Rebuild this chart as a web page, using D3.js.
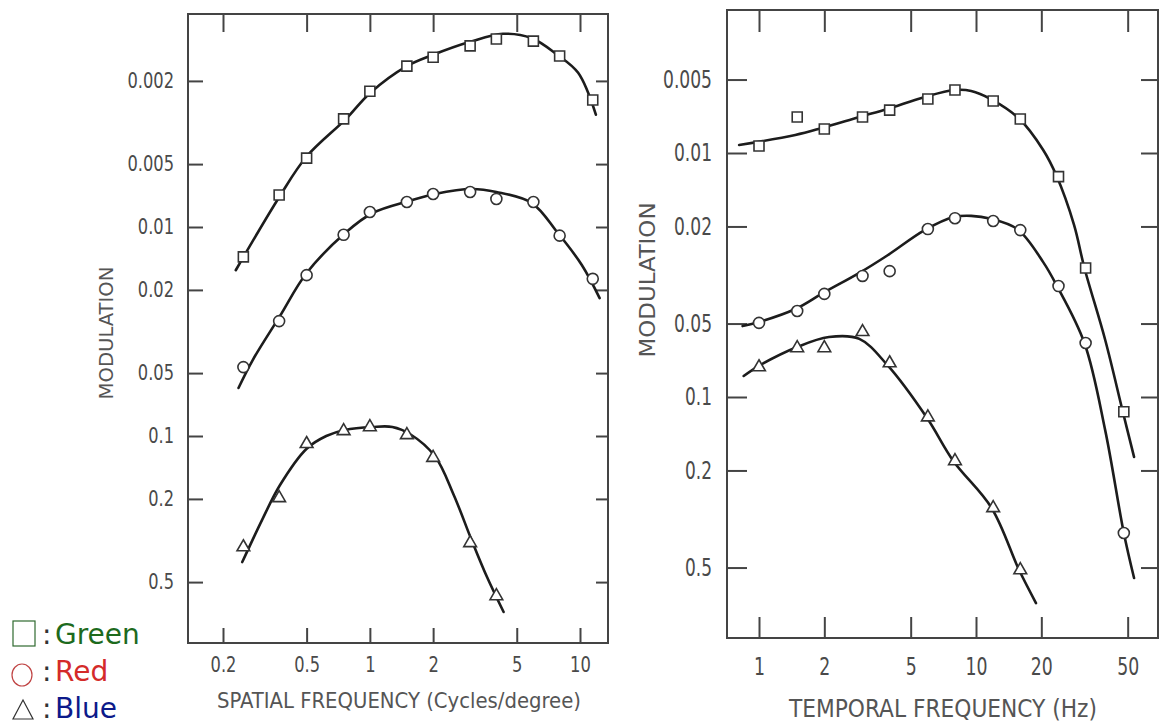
<!DOCTYPE html>
<html>
<head>
<meta charset="utf-8">
<script src="https://cdn.jsdelivr.net/npm/d3@7"></script>
<style>
  body { margin: 0; background: #fff; }
  svg { display: block; }
  .tick text { fill: #4a4a4a; font-family: "DejaVu Sans Condensed", "Liberation Sans Narrow", sans-serif; }
  .title { fill: #555; font-family: "DejaVu Sans Condensed", "Liberation Sans Narrow", sans-serif; }
</style>
</head>
<body>
<script>
// ---- data (frequency, modulation) ----
const spatialFreq = [0.25, 0.37, 0.5, 0.75, 1, 1.5, 2, 3, 4, 6, 8, 11.5];
const spatialGreen = [0.0139, 0.00703, 0.00468, 0.00304, 0.00224, 0.0017, 0.00154, 0.00136, 0.00126, 0.00129, 0.00152, 0.00247];
const spatialRed = [0.0468, 0.0282, 0.017, 0.0109, 0.00848, 0.00759, 0.00695, 0.0068, 0.00734, 0.00759, 0.011, 0.0177];
const spatialFreqBlue = [0.25, 0.37, 0.5, 0.75, 1, 1.5, 2, 3, 4];
const spatialBlue = [0.34, 0.198, 0.109, 0.0946, 0.0906, 0.0989, 0.127, 0.325, 0.583];

const temporalFreq = [1, 1.5, 2, 3, 4, 6, 8, 12, 16, 24, 32, 48];
const temporalGreen = [0.00936, 0.00712, 0.00797, 0.00712, 0.00667, 0.00601, 0.00552, 0.00612, 0.00726, 0.0125, 0.0296, 0.115];
const temporalRed = [0.0497, 0.0444, 0.0378, 0.0319, 0.0305, 0.0205, 0.0185, 0.019, 0.0207, 0.0351, 0.0601, 0.361];
const temporalFreqBlue = [1, 1.5, 2, 3, 4, 6, 8, 12, 16];
const temporalBlue = [0.0754, 0.063, 0.063, 0.0541, 0.0726, 0.121, 0.183, 0.285, 0.512];

// fitted curves, [frequency, modulation]
const spatialGreenFit = [[0.23, 0.0161], [0.37, 0.0072], [0.5, 0.0046], [0.77, 0.00304], [1, 0.00229], [1.5, 0.0017], [2, 0.0015], [3, 0.0013], [4.3, 0.00119], [5.9, 0.00125], [7.8, 0.0015], [9.8, 0.00183], [11.9, 0.0029]];
const spatialRedFit = [[0.237, 0.0589], [0.277, 0.0433], [0.373, 0.0267], [0.5, 0.0166], [0.77, 0.0106], [1.03, 0.00857], [1.53, 0.00751], [2.04, 0.00695], [3.05, 0.00658], [4, 0.0068], [5.9, 0.00768], [7.8, 0.0106], [10.2, 0.0152], [12.4, 0.0219]];
const spatialBlueFit = [[0.247, 0.401], [0.307, 0.252], [0.373, 0.172], [0.5, 0.115], [0.62, 0.1], [0.76, 0.0935], [1.03, 0.0905], [1.28, 0.0905], [1.55, 0.0978], [2.04, 0.125], [2.51, 0.192], [3.05, 0.315], [3.61, 0.473], [4.33, 0.695]];
const temporalGreenFit = [[0.81, 0.00927], [1.47, 0.00844], [1.95, 0.0079], [2.9, 0.00712], [3.9, 0.0066], [5.8, 0.00589], [8, 0.00552], [9.5, 0.00557], [11.7, 0.00601], [15.7, 0.00719], [20.4, 0.00972], [23.5, 0.0124], [28.3, 0.0197], [31.6, 0.0296], [39.4, 0.0584], [47.5, 0.115], [53.5, 0.176]];
const temporalRedFit = [[0.84, 0.0512], [1, 0.0493], [1.47, 0.0436], [1.97, 0.0375], [2.9, 0.031], [3.9, 0.0263], [5.8, 0.0207], [7.9, 0.0183], [9.5, 0.0181], [11.7, 0.0186], [15.5, 0.0205], [20.4, 0.028], [23.5, 0.0348], [31.6, 0.0601], [39.4, 0.137], [48, 0.361], [53.5, 0.552]];
const temporalBlueFit = [[0.85, 0.082], [1, 0.0745], [1.5, 0.0624], [2.1, 0.0568], [2.9, 0.0578], [3.9, 0.0739], [5.95, 0.122], [7.86, 0.183], [11.8, 0.285], [15.8, 0.512], [18.9, 0.699]];

const spatialXTicks = [0.2, 0.5, 1, 2, 5, 10];
const spatialYTicks = [0.002, 0.005, 0.01, 0.02, 0.05, 0.1, 0.2, 0.5];
const temporalXTicks = [1, 2, 5, 10, 20, 50];
const temporalYTicks = [0.005, 0.01, 0.02, 0.05, 0.1, 0.2, 0.5];

const legendNames = ["Green", "Red", "Blue"];
const legendColors = ["#1d6a1d", "#d42a2a", "#0c1a8a"];

// ---- drawing ----
const svg = d3.select("body").append("svg").attr("width", 1160).attr("height", 726);

const shapes = {
    square: d3.symbol(d3.symbolSquare, 100),
    circle: d3.symbol(d3.symbolCircle, 95),
    triangle: d3.symbol(d3.symbolTriangle, 70)
};

// the printed labels are narrow: squeeze each one to about 10.5px per digit
function labelWidth(s, digit) {
    let dots = (s.match(/\./g) || []).length;
    return (s.length - dots) * digit + dots * 5;
}

function drawPanel(p) {
    let g = svg.append("g");
    let x = d3.scaleLog().domain(p.xDomain).range(p.xRange);
    let y = d3.scaleLog().domain(p.yDomain).range(p.yRange);
    let fmt = d => String(d);

    // frame
    g.append("rect")
        .attr("x", p.frame.left).attr("y", p.frame.top)
        .attr("width", p.frame.right - p.frame.left)
        .attr("height", p.frame.bottom - p.frame.top)
        .attr("fill", "none").attr("stroke", "#444").attr("stroke-width", 2);

    let axes = [
        [d3.axisBottom(x).tickSizeInner(-p.tick.bottom).tickPadding(p.xPad).tickFormat(fmt), "translate(0," + p.frame.bottom + ")"],
        [d3.axisTop(x).tickSizeInner(-p.tick.top).tickFormat(""), "translate(0," + p.frame.top + ")"],
        [d3.axisLeft(y).tickSizeInner(-p.tick.left).tickPadding(p.yPad).tickFormat(fmt), "translate(" + p.frame.left + ",0)"],
        [d3.axisRight(y).tickSizeInner(-p.tick.right).tickFormat(""), "translate(" + p.frame.right + ",0)"]
    ];
    axes.forEach(function(a, i) {
        let ax = a[0].tickSizeOuter(0).tickValues(i < 2 ? p.xTicks : p.yTicks);
        let sel = g.append("g").attr("transform", a[1]).call(ax);
        sel.select(".domain").remove();
        sel.selectAll("line").attr("stroke", "#444").attr("stroke-width", 2);
        sel.selectAll("text")
            .style("font-size", (i < 2 ? p.xFont : p.yFont) + "px")
            .filter(function() { return this.textContent.length > 0; })
            .attr("textLength", function() { return labelWidth(this.textContent, p.digit); })
            .attr("lengthAdjust", "spacingAndGlyphs");
    });

    // fitted curves
    let line = d3.line().x(d => x(d[0])).y(d => y(d[1])).curve(d3.curveCatmullRom.alpha(0.5));
    p.curves.forEach(function(c) {
        g.append("path").attr("d", line(c)).attr("fill", "none")
            .attr("stroke", "#1c1c1c").attr("stroke-width", 2.6).attr("stroke-linecap", "round");
    });

    // markers
    p.series.forEach(function(s) {
        g.selectAll(null).data(s.values).enter().append("path")
            .attr("d", shapes[s.shape])
            .attr("transform", (d, i) => "translate(" + x(s.freq[i]) + "," + y(d) + ")")
            .attr("fill", "#fff").attr("stroke", "#333").attr("stroke-width", 1.6);
    });

    // titles
    g.append("text").attr("class", "title")
        .attr("x", p.xTitle.x).attr("y", p.xTitle.y)
        .attr("textLength", p.xTitle.len).attr("lengthAdjust", "spacingAndGlyphs")
        .style("font-size", p.xTitle.size + "px")
        .text(p.xTitle.text);
    g.append("text").attr("class", "title")
        .attr("transform", "translate(" + p.yTitle.x + "," + p.yTitle.y + ") rotate(-90)")
        .attr("text-anchor", "middle")
        .attr("textLength", p.yTitle.len).attr("lengthAdjust", "spacingAndGlyphs")
        .style("font-size", p.yTitle.size + "px")
        .text("MODULATION");
}

drawPanel({
    frame: {left: 188, top: 14, right: 608, bottom: 643},
    xDomain: [0.2, 10], xRange: [223, 580],
    yDomain: [0.01, 0.1], yRange: [227, 436],
    xTicks: spatialXTicks, yTicks: spatialYTicks,
    tick: {bottom: 15, top: 18, left: 15, right: 12},
    xPad: 13, yPad: 14, xFont: 22, yFont: 21, digit: 10.4,
    curves: [spatialGreenFit, spatialRedFit, spatialBlueFit],
    series: [
        {freq: spatialFreq, values: spatialGreen, shape: "square"},
        {freq: spatialFreq, values: spatialRed, shape: "circle"},
        {freq: spatialFreqBlue, values: spatialBlue, shape: "triangle"}
    ],
    xTitle: {text: "SPATIAL FREQUENCY (Cycles/degree)", x: 217, y: 708, len: 364, size: 21},
    yTitle: {x: 113, y: 333, len: 133, size: 20}
});

drawPanel({
    frame: {left: 727, top: 10, right: 1158, bottom: 638},
    xDomain: [1, 10], xRange: [759, 976],
    yDomain: [0.01, 0.1], yRange: [153, 397],
    xTicks: temporalXTicks, yTicks: temporalYTicks,
    tick: {bottom: 21, top: 22, left: 20, right: 17},
    xPad: 19, yPad: 15, xFont: 25, yFont: 24, digit: 11,
    curves: [temporalGreenFit, temporalRedFit, temporalBlueFit],
    series: [
        {freq: temporalFreq, values: temporalGreen, shape: "square"},
        {freq: temporalFreq, values: temporalRed, shape: "circle"},
        {freq: temporalFreqBlue, values: temporalBlue, shape: "triangle"}
    ],
    xTitle: {text: "TEMPORAL FREQUENCY (Hz)", x: 789, y: 717, len: 308, size: 25},
    yTitle: {x: 655, y: 280, len: 155, size: 22}
});

// legend
let legend = svg.append("g");
legend.append("rect").attr("x", 13).attr("y", 621).attr("width", 22).attr("height", 25)
    .attr("fill", "none").attr("stroke", "#2f6a2f").attr("stroke-width", 1.2);
legend.append("ellipse").attr("cx", 22).attr("cy", 675).attr("rx", 10).attr("ry", 11)
    .attr("fill", "none").attr("stroke", "#c04444").attr("stroke-width", 1.2);
legend.append("path").attr("d", "M13,719L33,719L23,700Z")
    .attr("fill", "none").attr("stroke", "#333").attr("stroke-width", 1.2);
legendNames.forEach(function(name, i) {
    let base = 644 + i * 37;
    legend.append("text").attr("x", 42).attr("y", base)
        .style("font-family", "'DejaVu Sans', sans-serif").style("font-size", "28px")
        .attr("fill", "#333").text(":");
    legend.append("text").attr("x", 55).attr("y", base)
        .style("font-family", "'DejaVu Sans', sans-serif").style("font-size", "28px")
        .attr("fill", legendColors[i]).text(name);
});
</script>
</body>
</html>
